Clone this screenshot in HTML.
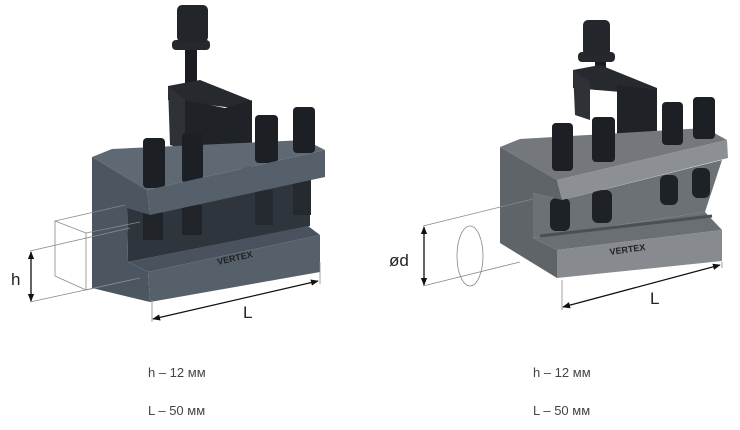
<!DOCTYPE html>
<html><head><meta charset="utf-8"><style>
html,body{margin:0;padding:0;background:#fff;}
svg{display:block}
text{font-family:"Liberation Sans",sans-serif;}
</style></head><body>
<svg width="740" height="430" viewBox="0 0 740 430" xmlns="http://www.w3.org/2000/svg">
<defs>
<marker id="a" viewBox="0 0 10 10" refX="9" refY="5" markerWidth="6" markerHeight="6" orient="auto-start-reverse"><path d="M0,1 L10,5 L0,9 z" fill="#111"/></marker>
</defs>

<!-- LEFT HOLDER -->
<g>
<rect x="185" y="48" width="12" height="45" fill="#1a1c20"/>
<rect x="172" y="40" width="38" height="10" rx="4" fill="#25282c"/>
<rect x="177" y="5" width="31" height="37" rx="5" fill="#22252a"/>
<polygon points="168,86 200,80 250,100 250,110 168,100" fill="#26292e"/>
<polygon points="185,100 225,108 252,100 252,168 185,172" fill="#1f2226"/>
<polygon points="168,86 185,100 185,150 170,145" fill="#2e3237"/>
<polygon points="92,157 112,149 305,140 325,150 147,190" fill="#5f6974"/>
<rect x="143" y="138" width="22" height="50" rx="4" fill="#1c1f23"/>
<rect x="182" y="133" width="21" height="50" rx="4" fill="#1c1f23"/>
<rect x="255" y="115" width="23" height="48" rx="4" fill="#1c1f23"/>
<rect x="293" y="107" width="22" height="46" rx="4" fill="#1c1f23"/>
<polygon points="127,207 150,215 310,178 310,226 128,262" fill="#2f353c"/>
<rect x="143" y="212" width="20" height="28" fill="#202328"/>
<rect x="182" y="205" width="20" height="30" fill="#202328"/>
<rect x="255" y="190" width="18" height="35" fill="#252a30"/>
<rect x="293" y="180" width="18" height="35" fill="#252a30"/>
<polygon points="147,190 325,150 325,177 150,215" fill="#56606b"/>
<polygon points="128,262 148,272 320,235 308,226" fill="#4a535d"/>
<polygon points="148,272 320,235 320,272 150,302" fill="#56606b"/>
<text x="218" y="265" font-size="9" fill="#222" font-weight="bold" transform="rotate(-13 218 265)">VERTEX</text>
<polygon points="92,157 147,190 150,215 127,208 128,262 148,272 150,302 92,288" fill="#4c5661"/>
</g>

<g stroke="#888" stroke-width="0.8" fill="none">
<polygon points="55,221 86,233 86,290 55,276"/>
<line x1="55" y1="221" x2="125" y2="205"/>
<line x1="86" y1="233" x2="140" y2="222"/>
<line x1="30" y1="251" x2="130" y2="228"/>
<line x1="30" y1="302" x2="140" y2="278"/>
<line x1="86" y1="290" x2="135" y2="279"/>
<line x1="152" y1="300" x2="152" y2="322"/>
<line x1="320" y1="262" x2="320" y2="284"/>
</g>
<line x1="31" y1="252" x2="31" y2="301" stroke="#111" stroke-width="1.3" marker-start="url(#a)" marker-end="url(#a)"/>
<line x1="153" y1="319" x2="318" y2="281" stroke="#111" stroke-width="1.3" marker-start="url(#a)" marker-end="url(#a)"/>
<text x="11" y="285" font-size="17" fill="#222">h</text>
<text x="243" y="318" font-size="17" fill="#222">L</text>

<!-- RIGHT HOLDER -->
<g>
<rect x="595" y="60" width="11" height="30" fill="#1a1c20"/>
<rect x="578" y="52" width="37" height="10" rx="4" fill="#25282c"/>
<rect x="583" y="20" width="27" height="36" rx="5" fill="#23262a"/>
<polygon points="573,70 600,65 657,88 657,95 573,88" fill="#26292e"/>
<polygon points="617,85 657,90 657,153 617,156" fill="#1f2226"/>
<polygon points="573,70 590,82 590,120 575,115" fill="#2e3237"/>
<polygon points="500,147 520,139 705,128 727,140 557,180" fill="#74787c"/>
<rect x="552" y="123" width="21" height="48" rx="4" fill="#1c1f23"/>
<rect x="592" y="117" width="23" height="45" rx="4" fill="#1c1f23"/>
<rect x="662" y="102" width="21" height="43" rx="4" fill="#1c1f23"/>
<rect x="693" y="97" width="22" height="42" rx="4" fill="#1c1f23"/>
<polygon points="533,193 562,200 722,160 705,212 533,238" fill="#6c7175"/>
<rect x="550" y="198" width="20" height="33" rx="6" fill="#1e2125"/>
<rect x="592" y="190" width="20" height="33" rx="6" fill="#1e2125"/>
<rect x="660" y="175" width="18" height="30" rx="6" fill="#1e2125"/>
<rect x="692" y="168" width="18" height="30" rx="6" fill="#1e2125"/>
<polygon points="557,180 727,140 728,158 562,200" fill="#8c9094"/>
<polygon points="533,238 557,250 722,230 705,212" fill="#6a6f74"/>
<line x1="540" y1="236" x2="712" y2="216" stroke="#4b5055" stroke-width="3"/>
<polygon points="557,250 722,230 722,261 557,278" fill="#878b8f"/>
<text x="610" y="255" font-size="9" fill="#222" font-weight="bold" transform="rotate(-8 610 255)">VERTEX</text>
<polygon points="500,147 557,180 562,200 533,193 533,238 557,250 557,278 500,243" fill="#5f6468"/>
</g>

<g stroke="#888" stroke-width="0.8" fill="none">
<ellipse cx="470" cy="256" rx="13" ry="30"/>
<line x1="423" y1="226" x2="533" y2="199"/>
<line x1="423" y1="286" x2="520" y2="262"/>
<line x1="562" y1="280" x2="562" y2="310"/>
<line x1="722" y1="262" x2="722" y2="268"/>
</g>
<line x1="424" y1="227" x2="424" y2="285" stroke="#111" stroke-width="1.3" marker-start="url(#a)" marker-end="url(#a)"/>
<line x1="563" y1="307" x2="720" y2="265" stroke="#111" stroke-width="1.3" marker-start="url(#a)" marker-end="url(#a)"/>
<text x="389" y="266" font-size="17" fill="#222">ød</text>
<text x="650" y="304" font-size="17" fill="#222">L</text>

<g font-size="13" fill="#444">
<text x="148" y="377">h – 12 мм</text>
<text x="148" y="415">L – 50 мм</text>
<text x="533" y="377">h – 12 мм</text>
<text x="533" y="415">L – 50 мм</text>
</g>
</svg>
</body></html>
